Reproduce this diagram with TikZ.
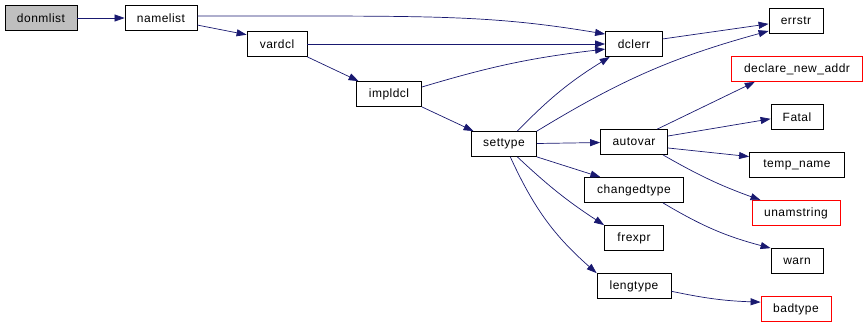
\documentclass[tikz,border=0pt]{standalone}
\usepackage{fontspec}
\setmainfont{Liberation Sans}[LetterSpace=4]
\usepackage{tikz}
\usetikzlibrary{arrows.meta}
\definecolor{edgeblue}{RGB}{25,25,112}
\definecolor{rootgray}{RGB}{191,191,191}

\tikzset{
  fn/.style={draw=black,fill=white,line width=0.8pt,inner sep=0pt,minimum height=25pt,font=\fontsize{12pt}{14pt}\selectfont},
  fnred/.style={fn,draw=red},
  fnroot/.style={fn,fill=rootgray},
  edge/.style={draw=edgeblue,line width=0.7pt,-{Triangle[length=10pt,width=7pt]}}
}

\begin{document}
\begin{tikzpicture}[x=1pt,y=1pt]
\useasboundingbox (0,0) rectangle (866,-325);
% nodes
\node[fnroot,minimum width=72] (donmlist) at (41,-18) {donmlist};
\node[fn,minimum width=72] (namelist) at (161,-18) {namelist};
\node[fn,minimum width=60] (vardcl) at (277,-44) {vardcl};
\node[fn,minimum width=65] (impldcl) at (389,-94) {impldcl};
\node[fn,minimum width=65] (settype) at (504,-144) {settype};
\node[fn,minimum width=57] (dclerr) at (634,-44) {dclerr};
\node[fn,minimum width=67] (autovar) at (634,-142) {autovar};
\node[fn,minimum width=99] (changedtype) at (634,-190) {changedtype};
\node[fn,minimum width=59] (frexpr) at (634,-238) {frexpr};
\node[fn,minimum width=74] (lengtype) at (634,-286) {lengtype};
\node[fn,minimum width=54] (errstr) at (796,-21) {errstr};
\node[fnred,minimum width=131] (declnew) at (797,-69) {declare\_new\_addr};
\node[fn,minimum width=52] (fatal) at (797,-117) {Fatal};
\node[fn,minimum width=95] (tempname) at (797,-165) {temp\_name};
\node[fnred,minimum width=88] (unamstring) at (796,-213) {unamstring};
\node[fn,minimum width=52] (warn) at (797,-261) {warn};
\node[fnred,minimum width=70] (badtype) at (796,-309) {badtype};
% calls
\draw[edge] (donmlist) -- (namelist);
\draw[edge] (namelist.3) .. controls +(230,0) and +(-120,20) .. (dclerr.161);
\draw[edge] (namelist.-11) -- (vardcl.163);
\draw[edge] (vardcl) -- (dclerr);
\draw[edge] (vardcl.south east) -- (impldcl.157);
\draw[edge] (impldcl.12) to[bend left=5] (dclerr.190);
\draw[edge] (impldcl.south east) -- (settype.157);
\draw[edge] (settype.44) to[bend left=7] (dclerr.208);
\draw[edge] (settype.north east) to[bend left=8] (errstr.200);
\draw[edge] (settype) -- (autovar);
\draw[edge] (settype.south east) -- (changedtype.159);
\draw[edge] (settype.-44) to[bend right=5] (frexpr.north west);
\draw[edge] (settype.-64) to[bend right=12] (lengtype.north west);
\draw[edge] (dclerr.10) -- (errstr.186);
\draw[edge] (autovar.29) -- (declnew.197);
\draw[edge] (autovar.10) -- (fatal.184);
\draw[edge] (autovar.-10) -- (tempname.170);
\draw[edge] (autovar.-24) to[bend right=5] (unamstring.160);
\draw[edge] (changedtype.-24) to[bend right=8] (warn.north west);
\draw[edge] (lengtype.-8) to[bend right=5] (badtype.169);
\end{tikzpicture}
\end{document}
